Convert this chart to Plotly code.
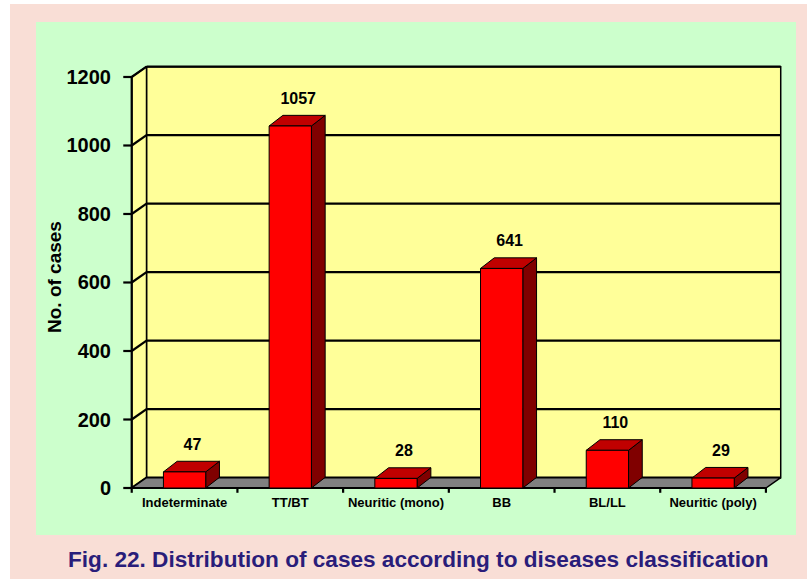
import plotly.graph_objects as go

# ---------------- data ----------------
categories = ["Indeterminate", "TT/BT", "Neuritic (mono)", "BB", "BL/LL", "Neuritic (poly)"]
values = [47, 1057, 28, 641, 110, 29]
y_ticks = [0, 200, 400, 600, 800, 1000, 1200]
title_text = "Fig. 22. Distribution of cases according to diseases classification"
y_title = "No. of cases"

# ---------------- style / geometry ----------------
W, H = 807, 579
L, R, T, B = 122, 23, 60, 86
PW, PH = W - L - R, H - T - B
XR = [-0.592, 5.671]
YR = [-14.6, 1249.6]
BAR_W = 0.40
BDX, BDY = 0.13, 31      # bar depth
WDX, WDY = 0.14, 30      # wall depth
YMAX = y_ticks[-1]
N = len(categories)
X0, X1 = -0.5, N - 0.5

RED, RED_TOP, RED_SIDE = "#ff0000", "#c00000", "#800000"
YELLOW, GREEN, PINK, GRAY = "#ffff99", "#ccffcc", "#f9ded6", "#808080"
FONT = "Liberation Sans, Arial, sans-serif"


def px_x(p):
    return (p - L) / PW


def px_y(p):
    return (H - B - p) / PH


def poly_trace(polys, fill, lw=1, lc="black"):
    xs, ys = [], []
    for poly in polys:
        for (x, y) in poly:
            xs.append(x)
            ys.append(y)
        xs.append(poly[0][0])
        ys.append(poly[0][1])
        xs.append(None)
        ys.append(None)
    return go.Scatter(x=xs, y=ys, mode="lines", fill="toself", fillcolor=fill,
                      line=dict(color=lc, width=lw), hoverinfo="skip", showlegend=False)


def line_trace(segs, lw=2, color="black"):
    xs, ys = [], []
    for (a, b) in segs:
        xs += [a[0], b[0], None]
        ys += [a[1], b[1], None]
    return go.Scatter(x=xs, y=ys, mode="lines", line=dict(color=color, width=lw),
                      hoverinfo="skip", showlegend=False)


fig = go.Figure()

# walls
back = [(X0 + WDX, WDY), (X1 + WDX, WDY), (X1 + WDX, YMAX + WDY), (X0 + WDX, YMAX + WDY)]
side = [(X0, 0), (X0, YMAX), (X0 + WDX, YMAX + WDY), (X0 + WDX, WDY)]
floor = [(X0, 0), (X1, 0), (X1 + WDX, WDY), (X0 + WDX, WDY)]
fig.add_trace(poly_trace([back], YELLOW, lw=1.5))
fig.add_trace(poly_trace([side], YELLOW, lw=1.5))

# gridlines on back wall + side wall diagonals
grid = []
for t in y_ticks:
    grid.append(((X0 + WDX, t + WDY), (X1 + WDX, t + WDY)))
    grid.append(((X0, t), (X0 + WDX, t + WDY)))
fig.add_trace(line_trace(grid, lw=2.2))
fig.add_trace(poly_trace([floor], GRAY, lw=1.5))

# front axes and ticks
axes = [((X0, 0), (X0, YMAX)), ((X0, 0), (X1, 0))]
ytick_len = 0.08
for t in y_ticks:
    axes.append(((X0 - ytick_len, t), (X0, t)))
for k in range(N + 1):
    xb = X0 + k
    axes.append(((xb, 0), (xb, -14)))
fig.add_trace(line_trace(axes, lw=2.2))

# 3D bars
fronts, tops, sides = [], [], []
for i, v in enumerate(values):
    xl, xr = i - BAR_W / 2, i + BAR_W / 2
    fronts.append([(xl, 0), (xr, 0), (xr, v), (xl, v)])
    tops.append([(xl, v), (xr, v), (xr + BDX, v + BDY), (xl + BDX, v + BDY)])
    sides.append([(xr, 0), (xr + BDX, BDY), (xr + BDX, v + BDY), (xr, v)])
fig.add_trace(poly_trace(sides, RED_SIDE, lw=1))
fig.add_trace(poly_trace(tops, RED_TOP, lw=1))
fig.add_trace(poly_trace(fronts, RED, lw=1))

# value labels
fig.add_trace(go.Scatter(
    x=[i + 0.075 for i in range(N)], y=[v + 77 for v in values],
    mode="text", text=[str(v) for v in values], textposition="middle center",
    textfont=dict(family=FONT, size=16, color="black", weight="bold"),
    cliponaxis=False, hoverinfo="skip", showlegend=False))

fig.update_layout(
    width=W, height=H,
    margin=dict(l=L, r=R, t=T, b=B),
    paper_bgcolor=PINK, plot_bgcolor="rgba(0,0,0,0)",
    showlegend=False,
    xaxis=dict(range=XR, tickvals=list(range(N)), ticktext=categories, ticks="",
               showgrid=False, zeroline=False, showline=False,
               tickfont=dict(family=FONT, size=13, color="black", weight="bold"),
               ticklabelstandoff=0, fixedrange=True),
    yaxis=dict(range=YR, tickvals=y_ticks, ticks="", showgrid=False, zeroline=False,
               showline=False,
               tickfont=dict(family=FONT, size=20, color="black", weight="bold"),
               ticklabelstandoff=10, fixedrange=True),
    shapes=[
        dict(type="rect", xref="paper", yref="paper", layer="below",
             x0=px_x(36), x1=px_x(796), y0=px_y(535), y1=px_y(22),
             fillcolor=GREEN, line=dict(width=0)),
        dict(type="rect", xref="paper", yref="paper", layer="below",
             x0=px_x(0), x1=px_x(W), y0=px_y(4), y1=px_y(0),
             fillcolor="white", line=dict(width=0)),
        dict(type="rect", xref="paper", yref="paper", layer="below",
             x0=px_x(0), x1=px_x(10), y0=px_y(H), y1=px_y(0),
             fillcolor="white", line=dict(width=0)),
    ],
    annotations=[
        dict(text=y_title, xref="paper", yref="paper", x=px_x(54), y=px_y(277),
             textangle=-90, showarrow=False, xanchor="center", yanchor="middle",
             font=dict(family=FONT, size=19, color="black", weight="bold")),
        dict(text=title_text, xref="paper", yref="paper", x=px_x(418), y=px_y(559),
             showarrow=False, xanchor="center", yanchor="middle",
             font=dict(family=FONT, size=22.6, color="#2a1d7a", weight="bold")),
    ],
)

fig.write_html("out.html", config={"displayModeBar": False},
               post_script="document.body.style.margin='0';")
